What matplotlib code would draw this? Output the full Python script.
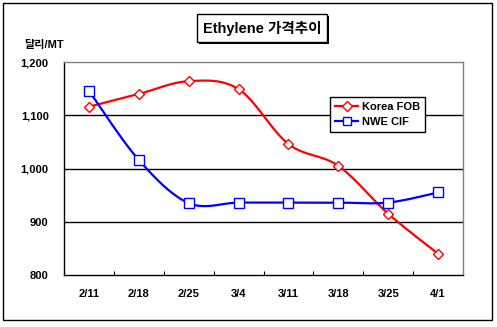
import numpy as np
import matplotlib
matplotlib.use("Agg")
import matplotlib.pyplot as plt
from matplotlib.patches import Rectangle
from matplotlib.lines import Line2D

categories = ["2/11", "2/18", "2/25", "3/4", "3/11", "3/18", "3/25", "4/1"]
korea_fob = [1116, 1140, 1164, 1149, 1046, 1005, 915, 840]
nwe_cif = [1146, 1016, 935, 936, 936, 936, 936, 955]
yticks = [800, 900, 1000, 1100, 1200]
ytick_labels = ["800", "900", "1,000", "1,100", "1,200"]

plt.rcParams['font.family'] = ['Liberation Sans', 'Noto Sans CJK KR', 'DejaVu Sans']


def smooth(y, n=20):
    y = np.asarray(y, float)
    x = np.arange(len(y), dtype=float)
    xs, ys = [], []
    for i in range(len(y) - 1):
        p0 = np.array([x[max(i - 1, 0)], y[max(i - 1, 0)]])
        p1 = np.array([x[i], y[i]])
        p2 = np.array([x[i + 1], y[i + 1]])
        p3 = np.array([x[min(i + 2, len(y) - 1)], y[min(i + 2, len(y) - 1)]])
        c1 = p1 + (p2 - p0) / 6.0
        c2 = p2 - (p3 - p1) / 6.0
        t = np.linspace(0, 1, n)[:, None]
        pts = ((1 - t) ** 3) * p1 + 3 * ((1 - t) ** 2) * t * c1 + 3 * (1 - t) * t ** 2 * c2 + t ** 3 * p2
        xs.extend(pts[:, 0]); ys.extend(pts[:, 1])
    return np.array(xs), np.array(ys)


fig = plt.figure(figsize=(4.97, 3.27), dpi=100)
W, H = 497, 327
ax = fig.add_axes([64 / W, 1 - 275 / H, 399 / W, 213 / H])

x = np.arange(len(categories))
sx, sy = smooth(korea_fob)
ax.plot(sx, sy, color='#ff0000', lw=1.6, zorder=3)
ax.plot(x, korea_fob, ls='none', marker='D', ms=5.5, mfc='white', mec='#ff0000', mew=1.0, zorder=4)
sx, sy = smooth(nwe_cif)
ax.plot(sx, sy, color='#0000ff', lw=1.6, zorder=3)
ax.plot(x, nwe_cif, ls='none', marker='s', ms=6.5, mfc='white', mec='#0000ff', mew=1.0, zorder=4)

ax.set_xlim(-0.5, len(categories) - 0.5)
ax.set_ylim(800, 1200)
ax.set_yticks(yticks)
ax.set_yticklabels(ytick_labels, fontsize=8, fontweight='bold')
for yv in yticks[1:-1]:
    ax.axhline(yv, color='black', lw=1.0, zorder=1)
ax.tick_params(axis='y', length=0, pad=11)
ax.set_xticks(x)
ax.set_xticklabels(categories, fontsize=8, fontweight='bold')
ax.tick_params(axis='x', which='major', length=0, pad=10)
ax.set_xticks(np.arange(0.5, len(categories) - 1, 1.0), minor=True)
ax.tick_params(axis='x', which='minor', direction='in', length=3, width=0.8, color='black')
for s in ['top', 'right']:
    ax.spines[s].set_color('#808080')
for s in ['left', 'bottom']:
    ax.spines[s].set_color('black')
for s in ax.spines.values():
    s.set_linewidth(1.0)

handles = [
    Line2D([], [], color='#ff0000', lw=1.6, marker='D', ms=5, mfc='white', mec='#ff0000'),
    Line2D([], [], color='#0000ff', lw=1.6, marker='s', ms=6, mfc='white', mec='#0000ff'),
]
leg = ax.legend(handles, ["Korea FOB", "NWE CIF"], loc='upper left', bbox_to_anchor=(0.667, 0.836),
                prop={'size': 8, 'weight': 'bold'}, frameon=True, fancybox=False, framealpha=1,
                edgecolor='black', handlelength=2.1, handletextpad=0.3, borderpad=0.45,
                labelspacing=0.45, borderaxespad=0)
leg.get_frame().set_linewidth(1.0)
leg.set_zorder(5)

# outer frame
fig.patches.append(Rectangle((3 / W, 1 - 320 / H), 489 / W, 317 / H, transform=fig.transFigure,
                             fill=False, ec='black', lw=1.0))
# title with shadow box
fig.patches.append(Rectangle((199 / W, 1 - 44 / H), 130 / W, 28 / H, transform=fig.transFigure,
                             fc='black', ec='black', lw=0))
fig.patches.append(Rectangle((197 / W, 1 - 42 / H), 130 / W, 28 / H, transform=fig.transFigure,
                             fc='white', ec='black', lw=1.0))
fig.text(262 / W, 1 - 28.5 / H, "Ethylene 가격추이", ha='center', va='center', fontsize=10.5,
         fontweight='bold')
fig.text(24 / W, 1 - 45 / H, "달리/MT", ha='left', va='center', fontsize=8, fontweight='bold')

fig.savefig("out.png", dpi=100)
